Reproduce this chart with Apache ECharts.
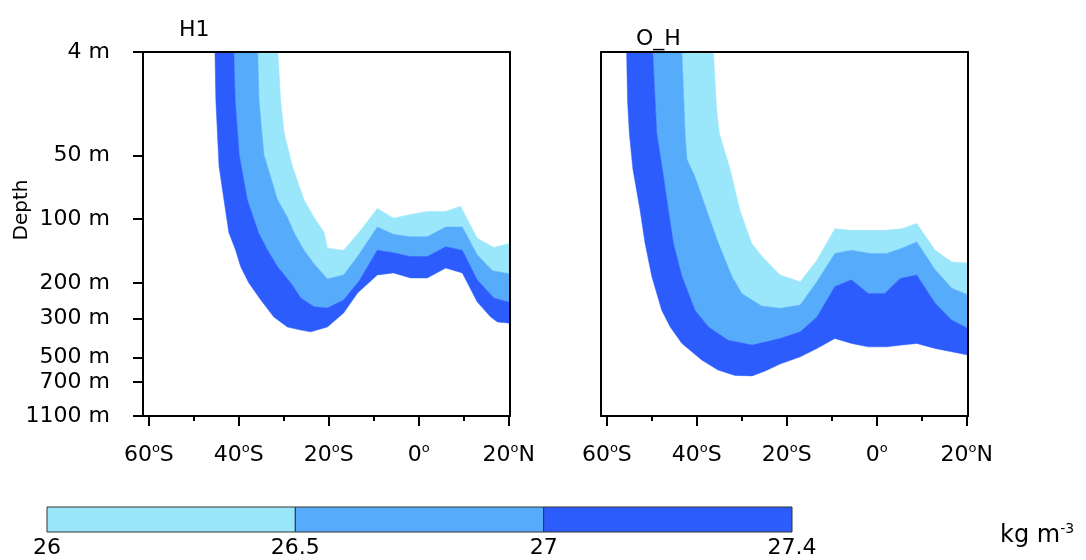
<!DOCTYPE html>
<html>
<head>
<meta charset="utf-8">
<title>Isopycnal depth</title>
<script src="https://cdn.jsdelivr.net/npm/echarts@6/dist/echarts.min.js"></script>
<style>
  html, body { margin: 0; padding: 0; background: #fff; }
  #chart { width: 1086px; height: 560px; }
</style>
</head>
<body>
<div id="chart"></div>
<script>
// --- data -------------------------------------------------------------
const LAT_TICKS = [-60, -40, -20, 0, 20]
const LAT_MINOR = [-50, -30, -10, 10]
const DEPTH_TICKS = [4, 50, 100, 200, 300, 500, 700, 1100]
const CONTOUR_LEVELS = [26, 26.5, 27, 27.4]
const PANEL_NAMES = ['H1', 'O_H']

// isopycnal depths [lat, depth m], H1
const h1_s260 = [[-31.3,4],[-30.7,13],[-29.9,29],[-28.1,56],[-25.5,81],[-23.3,98],[-21,116],[-20.3,137],[-16.7,140],[-12.9,113],[-9.2,89],[-5.6,99],[-1.8,95],[1.9,92],[6,92],[9.3,87],[13,123],[16.7,136],[20.3,130]]
const h1_s265 = [[-35.8,4],[-35.5,13],[-34.4,49],[-31.4,81],[-29.2,98],[-27.7,116],[-25.5,140],[-23.3,162],[-20.3,191],[-16.7,183],[-13.6,150],[-9.2,109],[-5.6,118],[-1.8,121],[1.9,121],[6,109],[9.7,109],[13,147],[16.4,175],[20.3,181]]
const h1_s270 = [[-41.1,4],[-40.8,13],[-39.9,49],[-38.1,81],[-35.6,116],[-33.6,140],[-31.4,167],[-28.4,200],[-26.2,237],[-23.3,262],[-20.3,266],[-16.7,243],[-13.3,196],[-9.2,140],[-5.6,144],[-1.8,150],[1.9,150],[6,135],[9.7,140],[13,193],[16.7,237],[20.3,250]]
const h1_s274 = [[-45.3,4],[-45.1,13],[-44.4,56],[-43.3,81],[-42.2,116],[-40.7,140],[-39.6,167],[-37.8,199],[-35.1,243],[-32.2,295],[-29.2,335],[-26.2,349],[-24,357],[-20.3,335],[-16.7,282],[-13.6,224],[-9.2,183],[-5.6,179],[-1.8,189],[1.9,189],[6,170],[9.7,179],[13,248],[16,295],[17.5,314],[20.3,319]]

// isopycnal depths [lat, depth m], O_H
const oh_s260 = [[-36.3,4],[-35.6,16],[-35,29],[-32.6,58],[-30.4,91],[-27.8,130],[-25.6,149],[-21.5,183],[-17,197],[-13.3,156],[-9.3,111],[-5.6,113],[-1.9,113],[1.9,113],[5.6,111],[8.9,105],[13,140],[16.7,159],[20.3,161]]
const oh_s265 = [[-43.3,4],[-42.6,29],[-42.2,52],[-40.4,63],[-37.8,91],[-35.2,130],[-32.2,186],[-30,225],[-25.6,260],[-21.5,267],[-17,257],[-13.3,197],[-9.3,145],[-5.6,140],[-1.5,145],[2.2,145],[5.6,137],[8.9,128],[13,173],[16.7,212],[20.3,229]]
const oh_s270 = [[-49.8,4],[-48.9,29],[-47.4,63],[-46.3,91],[-45.2,130],[-43.3,186],[-40.4,273],[-37.4,335],[-33,398],[-27.7,424],[-24.8,408],[-21.5,389],[-17,357],[-13.3,295],[-9.3,208],[-5.6,193],[-1.9,225],[1.8,225],[5.2,190],[8.9,183],[13,252],[16.7,307],[20.3,342]]
const oh_s274 = [[-55.6,4],[-55.4,13],[-55,29],[-54.2,58],[-52.6,91],[-51.5,130],[-50,186],[-47.8,273],[-45.9,335],[-43.3,415],[-38.9,516],[-35.3,592],[-31.5,638],[-27.7,642],[-24.8,600],[-21.5,545],[-17,494],[-13.3,443],[-9.3,389],[-5.6,415],[-1.9,434],[2.2,434],[5.6,424],[8.9,415],[13,443],[16.7,463],[20.3,483]]

// --- look --------------------------------------------------------------
const BAND_COLORS = ['#9ae6fb', '#56acfb', '#2d5cfd']
const FONT = 'DejaVu Sans'
const LAT_MIN = -61.3
const LAT_MAX = 20.3
// vertical axis uses model-level spacing: where each depth tick sits (0 = top, 1 = bottom)
const LEVEL_POS = [0, 0.285, 0.459, 0.635, 0.732, 0.840, 0.907, 1]

function depthToAxis(d) {
  if (d <= DEPTH_TICKS[0]) return 0
  for (let i = 0; i < DEPTH_TICKS.length - 1; i++) {
    const a = DEPTH_TICKS[i], b = DEPTH_TICKS[i + 1]
    if (d <= b) {
      const t = Math.log(d / a) / Math.log(b / a)
      return LEVEL_POS[i] + t * (LEVEL_POS[i + 1] - LEVEL_POS[i])
    }
  }
  return 1
}

function latLabel(v) {
  const n = Math.round(v)
  if (n === 0) return '0{s|o}'
  return Math.abs(n) + '{s|o}' + (n < 0 ? 'S' : 'N')
}

function depthLabel(v) {
  let best = 0
  LEVEL_POS.forEach((p, i) => { if (Math.abs(p - v) < Math.abs(LEVEL_POS[best] - v)) best = i })
  return DEPTH_TICKS[best] + ' m'
}

const panels = [
  { left: 143, lines: [h1_s260, h1_s265, h1_s270, h1_s274], yLabels: true },
  { left: 601, lines: [oh_s260, oh_s265, oh_s270, oh_s274], yLabels: false },
]

const black = { color: '#000', width: 2 }
const grid = [], xAxis = [], yAxis = [], series = []

panels.forEach((p, k) => {
  grid.push({ left: p.left, top: 52, width: 367, height: 364 })
  const xBase = xAxis.length, yBase = yAxis.length
  xAxis.push({
    gridIndex: k, type: 'value', min: LAT_MIN, max: LAT_MAX, position: 'bottom', z: 10,
    axisLine: { show: true, onZero: false, lineStyle: black },
    axisTick: { show: true, customValues: LAT_TICKS, length: 10, lineStyle: black },
    axisLabel: {
      customValues: LAT_TICKS, formatter: latLabel, margin: 26,
      color: '#000', fontFamily: FONT, fontSize: 22, lineHeight: 26,
      rich: { s: { fontFamily: FONT, fontSize: 13, lineHeight: 13, verticalAlign: 'top', color: '#000' } },
    },
    splitLine: { show: false },
  })
  xAxis.push({
    gridIndex: k, type: 'value', min: LAT_MIN, max: LAT_MAX, position: 'bottom', z: 10,
    axisLine: { show: false, onZero: false },
    axisTick: { show: true, customValues: LAT_MINOR, length: 5, lineStyle: black },
    axisLabel: { show: false }, splitLine: { show: false },
  })
  xAxis.push({
    gridIndex: k, type: 'value', min: LAT_MIN, max: LAT_MAX, position: 'top', z: 10,
    axisLine: { show: true, onZero: false, lineStyle: black },
    axisTick: { show: false }, axisLabel: { show: false }, splitLine: { show: false },
  })
  const tickPos = DEPTH_TICKS.map(depthToAxis)
  yAxis.push({
    gridIndex: k, type: 'value', min: 0, max: 1, inverse: true, position: 'left', z: 10,
    axisLine: { show: true, onZero: false, lineStyle: black },
    axisTick: { show: p.yLabels, customValues: tickPos, length: 10, lineStyle: black },
    axisLabel: {
      show: p.yLabels, customValues: tickPos, formatter: depthLabel, margin: 33,
      color: '#000', fontFamily: FONT, fontSize: 22,
    },
    splitLine: { show: false },
  })
  yAxis.push({
    gridIndex: k, type: 'value', min: 0, max: 1, inverse: true, position: 'right', z: 10,
    axisLine: { show: true, onZero: false, lineStyle: black },
    axisTick: { show: false }, axisLabel: { show: false }, splitLine: { show: false },
  })

  const lines = p.lines
  series.push({
    type: 'custom', xAxisIndex: xBase, yAxisIndex: yBase, clip: true, silent: true,
    data: [[0], [1], [2]],
    renderItem(params, api) {
      const b = api.value(0)
      const toPx = pt => api.coord([pt[0], depthToAxis(pt[1])])
      const pts = lines[b].map(toPx).concat(lines[b + 1].slice().reverse().map(toPx))
      return { type: 'polygon', shape: { points: pts }, style: { fill: BAND_COLORS[b], stroke: BAND_COLORS[b], lineWidth: 0.5 } }
    },
  })
})

// colour bar
grid.push({ left: 47, top: 507, width: 745, height: 25 })
xAxis.push({
  gridIndex: 2, type: 'value', min: 0, max: 3,
  axisLine: { show: false }, axisTick: { show: false }, splitLine: { show: false },
  axisLabel: {
    customValues: [0, 1, 2, 3], showMinLabel: true, showMaxLabel: true, margin: 5,
    formatter: v => String(CONTOUR_LEVELS[Math.round(v)]),
    color: '#000', fontFamily: FONT, fontSize: 22,
  },
})
yAxis.push({ gridIndex: 2, type: 'value', min: 0, max: 1, show: false })
series.push({
  type: 'custom', xAxisIndex: xAxis.length - 1, yAxisIndex: yAxis.length - 1, silent: true,
  data: [[0], [1], [2]],
  renderItem(params, api) {
    const i = api.value(0)
    const a = api.coord([i, 1]), b = api.coord([i + 1, 0])
    return {
      type: 'rect', shape: { x: a[0], y: a[1], width: b[0] - a[0], height: b[1] - a[1] },
      style: { fill: BAND_COLORS[i], stroke: '#333', lineWidth: 1 },
    }
  },
})

const chart = echarts.init(document.getElementById('chart'), null, { renderer: 'canvas' })
chart.setOption({
  animation: false,
  backgroundColor: '#fff',
  grid, xAxis, yAxis, series,
  graphic: [
    { type: 'text', left: 179, top: 19, style: { text: PANEL_NAMES[0], fill: '#000', font: '22px "DejaVu Sans"' } },
    { type: 'text', left: 636, top: 28, style: { text: PANEL_NAMES[1], fill: '#000', font: '22px "DejaVu Sans"' } },
    {
      type: 'text', x: 22, y: 210, rotation: Math.PI / 2,
      style: { text: 'Depth', fill: '#000', font: '20px "DejaVu Sans"', align: 'center', verticalAlign: 'middle' },
    },
    {
      type: 'text', left: 1000, top: 522,
      style: {
        text: 'kg m{s|-3}', fill: '#000', font: '24px "DejaVu Sans"', lineHeight: 28,
        rich: { s: { fontFamily: FONT, fontSize: 14, lineHeight: 14, verticalAlign: 'top', fill: '#000' } },
      },
    },
  ],
})
</script>
</body>
</html>
